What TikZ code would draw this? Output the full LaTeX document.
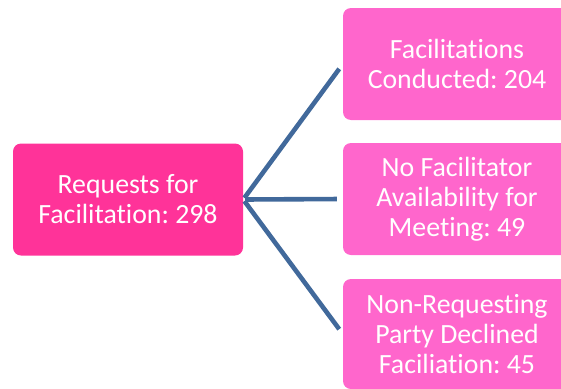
\documentclass[tikz,border=0pt]{standalone}
\usepackage{fontspec}
\setmainfont{Carlito}[RawFeature={-liga;-clig;-dlig;-rlig;-calt}]
\usepackage{tikz}
\usetikzlibrary{arrows.meta, positioning, calc}
\definecolor{rootcolor}{RGB}{255, 51, 153}
\definecolor{leafcolor}{RGB}{255, 102, 204}
\definecolor{linkcolor}{RGB}{65, 105, 155}
\frenchspacing

\begin{document}
\begin{tikzpicture}[x=1pt, y=-1pt,
    box/.style={rounded corners=8pt, text=white, align=center, minimum width=230pt, minimum height=112pt, inner sep=0pt, font=\fontsize{27.8}{30}\selectfont},
    rootbox/.style={box, fill=rootcolor},
    leafbox/.style={box, fill=leafcolor, minimum width=228pt},
    link/.style={linkcolor, line width=4.6pt, shorten <=2pt, shorten >=6pt}]
        \useasboundingbox (0, 0) rectangle (561, 388);
        
        % Requests
        \node[rootbox] (req) at (128, 199.5) {Requests for\\Facilitation: 298};
        
        % Outcomes
        \node[leafbox] (done) at (457, 64) {Facilitations\\Conducted: 204};
        \node[leafbox] (nofac) at (457, 199) {No Facilitator\\Availability for\\Meeting: 49};
        \node[leafbox, minimum height=110pt] (declined) at (457, 334) {Non-Requesting\\Party Declined\\Faciliation: 45};
        
        % Connections
        \draw[link] (req.east) -- (done.west);
        \draw[link] (req.east) -- (nofac.west);
        \draw[link] (req.east) -- (declined.west);
    \end{tikzpicture}
\end{document}
